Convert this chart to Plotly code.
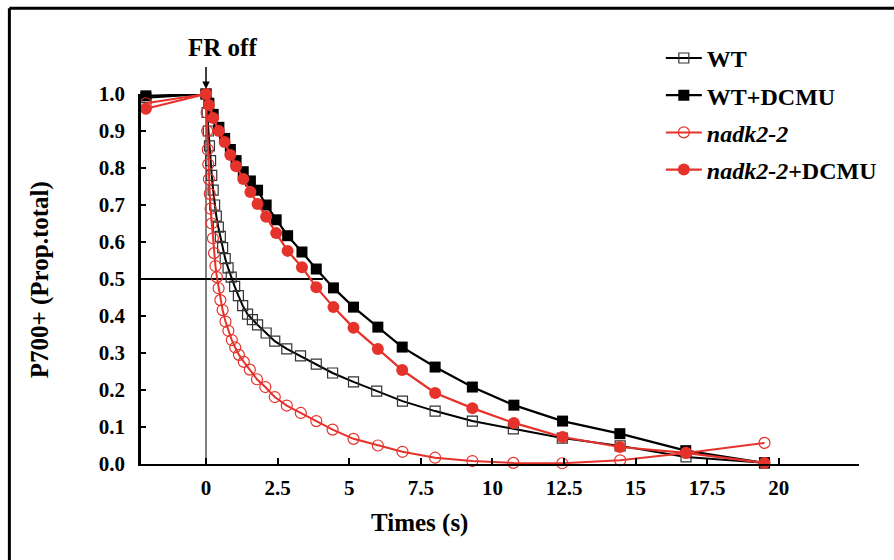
import plotly.graph_objects as go

# -----------------------------
# data
# -----------------------------
t_wt = [-2.1, 0, 0.04, 0.08, 0.12, 0.16, 0.2, 0.25, 0.3, 0.36, 0.43, 0.5, 0.58, 0.67,
        0.77, 0.88, 1.0, 1.13, 1.28, 1.45, 1.62, 1.8, 2.1, 2.4, 2.82, 3.3, 3.85, 4.42,
        5.15, 5.96, 6.86, 8.0, 9.3, 10.73, 12.44, 14.46, 16.76, 19.5]
wt = [0.99, 1.0, 0.95, 0.9, 0.86, 0.82, 0.78, 0.74, 0.7, 0.67, 0.64, 0.615, 0.585, 0.555,
      0.53, 0.505, 0.48, 0.455, 0.428, 0.405, 0.39, 0.376, 0.354, 0.332, 0.311, 0.292, 0.27, 0.246,
      0.222, 0.197, 0.17, 0.143, 0.116, 0.095, 0.07, 0.049, 0.019, 0.003]

t_dcmu = [-2.1, 0, 0.1, 0.25, 0.45, 0.65, 0.85, 1.05, 1.3, 1.55, 1.8, 2.1, 2.45, 2.85,
          3.35, 3.85, 4.45, 5.15, 6.0, 6.85, 8.0, 9.3, 10.75, 12.45, 14.45, 16.75, 19.5]
wt_dcmu = [0.995, 1.0, 0.975, 0.945, 0.91, 0.88, 0.85, 0.82, 0.79, 0.765, 0.74, 0.70, 0.66, 0.617,
           0.573, 0.527, 0.476, 0.424, 0.37, 0.316, 0.262, 0.208, 0.159, 0.116, 0.082, 0.036, 0.003]
nadk_dcmu = [0.96, 1.0, 0.97, 0.935, 0.9, 0.87, 0.835, 0.805, 0.77, 0.735, 0.703, 0.668, 0.624, 0.576,
             0.532, 0.478, 0.424, 0.368, 0.311, 0.254, 0.192, 0.151, 0.111, 0.073, 0.046, 0.030, 0.003]

t_nadk = [-2.1, 0, 0.02, 0.04, 0.06, 0.08, 0.1, 0.13, 0.16, 0.2, 0.24, 0.28, 0.33, 0.38, 0.44,
          0.5, 0.58, 0.68, 0.78, 0.9, 1.02, 1.15, 1.32, 1.53, 1.78, 2.07, 2.4, 2.82, 3.31, 3.85,
          4.42, 5.15, 6.0, 6.86, 8.0, 9.3, 10.73, 12.44, 14.46, 16.76, 19.5]
nadk = [0.975, 1.0, 0.95, 0.9, 0.85, 0.81, 0.77, 0.73, 0.69, 0.65, 0.61, 0.57, 0.535, 0.505, 0.475,
        0.443, 0.416, 0.385, 0.36, 0.335, 0.315, 0.295, 0.276, 0.255, 0.229, 0.208, 0.181, 0.158, 0.138, 0.116,
        0.093, 0.068, 0.05, 0.033, 0.017, 0.008, 0.003, 0.002, 0.01, 0.03, 0.057]

x_ticks = [0, 2.5, 5, 7.5, 10, 12.5, 15, 17.5, 20]
y_ticks = [0.0, 0.1, 0.2, 0.3, 0.4, 0.5, 0.6, 0.7, 0.8, 0.9, 1.0]

RED = '#E5322B'
FONT = 'Liberation Serif'

fig = go.Figure()
fig.add_trace(go.Scatter(x=t_wt, y=wt, name='<b>WT</b>', legendgroup='a', mode='lines+markers',
                         line=dict(color='black', width=2),
                         marker=dict(symbol='square-open', size=10, color='#333333', line=dict(width=1.2))))
fig.add_trace(go.Scatter(x=t_dcmu, y=wt_dcmu, name='<b>WT+DCMU</b>', legendgroup='b', mode='lines+markers',
                         line=dict(color='black', width=2.2),
                         marker=dict(symbol='square', size=11, color='black')))
fig.add_trace(go.Scatter(x=t_nadk, y=nadk, name='<b><i>nadk2-2</i></b>', legendgroup='c', mode='lines+markers',
                         line=dict(color=RED, width=2),
                         marker=dict(symbol='circle-open', size=11, color=RED, line=dict(width=1.2))))
fig.add_trace(go.Scatter(x=t_dcmu, y=nadk_dcmu, name='<b><i>nadk2-2</i>+DCMU</b>', legendgroup='d',
                         mode='lines+markers', line=dict(color=RED, width=2.2),
                         marker=dict(symbol='circle', size=12, color=RED)))

# reference lines: light-off time and half-level
fig.add_shape(type='line', x0=0, x1=0, y0=0, y1=1.0, line=dict(color='black', width=1), layer='below')
fig.add_shape(type='line', x0=-2.27, x1=4.08, y0=0.5, y1=0.5, line=dict(color='black', width=2), layer='below')
# chart frame (left and top edges visible)
fig.add_shape(type='line', xref='paper', yref='paper', x0=-0.1833, x1=-0.1833, y0=-0.4, y1=1.232,
              line=dict(color='black', width=3))
fig.add_shape(type='line', xref='paper', yref='paper', x0=-0.1833, x1=1.2, y0=1.232, y1=1.232,
              line=dict(color='black', width=3))

# "FR off" label and its arrow
fig.add_annotation(x=0, xshift=16, yref='paper', y=(464 - 48) / 370, text='<b>FR off</b>', showarrow=False,
                   xanchor='center', yanchor='middle', font=dict(family=FONT, size=25, color='black'))
fig.add_annotation(x=0, y=1.0, text=' ', showarrow=True, ax=0, ay=-30,
                   arrowhead=2, arrowsize=1, arrowwidth=1.5, standoff=5, arrowcolor='black',
                   font=dict(size=2))
fig.add_annotation(xref='paper', yref='paper', x=(420 - 141) / 720, y=(464 - 523) / 370,
                   xanchor='center', yanchor='middle',
                   text='<b>Times (s)</b>', showarrow=False, font=dict(family=FONT, size=25, color='black'))
fig.add_annotation(xref='paper', yref='paper', x=(40 - 141) / 720, y=(464 - 280) / 370, textangle=-90,
                   xanchor='center', yanchor='middle',
                   text='<b>P700+ (Prop.total)</b>', showarrow=False, font=dict(family=FONT, size=25, color='black'))

fig.update_xaxes(range=[-2.27, 22.8], tickvals=x_ticks, ticktext=[f'<b>{v:g}</b>' for v in x_ticks],
                 ticks='inside', ticklen=6, tickwidth=2, tickcolor='black',
                 showline=True, linecolor='black', linewidth=2, showgrid=False, zeroline=False,
                 tickfont=dict(family=FONT, size=21, color='black'), ticklabelstandoff=4)
fig.update_yaxes(range=[0, 1.0], tickvals=y_ticks, ticktext=[f'<b>{v:.1f}</b>' for v in y_ticks],
                 ticks='inside', ticklen=5, tickwidth=2, tickcolor='black',
                 showline=True, linecolor='black', linewidth=2.5, showgrid=False, zeroline=False,
                 tickfont=dict(family=FONT, size=21, color='black'), ticklabelstandoff=9)

fig.update_layout(width=894, height=560, margin=dict(l=141, r=33, t=94, b=96),
                  paper_bgcolor='white', plot_bgcolor='white', showlegend=True,
                  legend=dict(x=0.724, y=1.157, xanchor='left', yanchor='top', tracegroupgap=3,
                              itemwidth=36,
                              font=dict(family=FONT, size=24, color='black'), bgcolor='rgba(0,0,0,0)'))
for tr in fig.data:
    tr.cliponaxis = False

fig.write_html("out.html", config={'displayModeBar': False},
               post_script="document.body.style.margin='0';")
